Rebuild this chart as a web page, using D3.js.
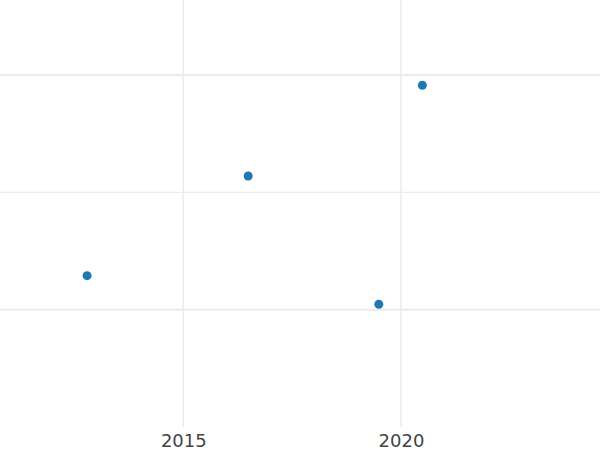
<!DOCTYPE html>
<html>
<head>
<meta charset="utf-8">
<script src="https://cdn.jsdelivr.net/npm/d3@7"></script>
<style>
  html, body { margin: 0; padding: 0; background: #fff; }
  svg { display: block; }
</style>
</head>
<body>
<svg id="chart" width="600" height="450"></svg>
<script>
// Data (years, values)
const years = [2012.79, 2016.49, 2019.49, 2020.49];
const values = [12.9, 21.4, 10.46, 29.13];
const xTickValues = [2015, 2020];
const xTickLabels = ["2015", "2020"];
const yGridValues = [10, 20, 30];
const yGridMajor = [10, 30];

const W = 600, H = 450;
const plotBottom = 427;

const svg = d3.select("#chart");

const x = d3.scaleLinear().domain([2010.79, 2024.57]).range([0, W]);
const y = d3.scaleLinear().domain([0, 36.4]).range([plotBottom, 0]);

// horizontal gridlines
svg.append("g").selectAll("line").data(yGridValues).join("line")
  .attr("x1", 0).attr("x2", W)
  .attr("y1", d => y(d)).attr("y2", d => y(d))
  .attr("stroke", "#ebebeb")
  .attr("stroke-width", d => yGridMajor.includes(d) ? 2 : 1.2);

// vertical gridlines
svg.append("g").selectAll("line").data(xTickValues).join("line")
  .attr("x1", d => x(d)).attr("x2", d => x(d))
  .attr("y1", 0).attr("y2", plotBottom)
  .attr("stroke", "#ebebeb")
  .attr("stroke-width", 1.5);

// x axis labels
const xAxis = d3.axisBottom(x).tickValues(xTickValues)
  .tickFormat((d, i) => xTickLabels[i]).tickSize(0).tickPadding(0);
const gx = svg.append("g").attr("transform", `translate(0,${plotBottom})`).call(xAxis);
gx.select(".domain").remove();
gx.selectAll("text")
  .attr("dy", null)
  .attr("y", 20)
  .attr("font-family", "DejaVu Sans, sans-serif")
  .attr("font-size", 18)
  .attr("fill", "#444");

// points
svg.append("g").selectAll("circle").data(years.map((yr, i) => [yr, values[i]])).join("circle")
  .attr("cx", d => x(d[0]))
  .attr("cy", d => y(d[1]))
  .attr("r", 4.5)
  .attr("fill", "#1f77b4");
</script>
</body>
</html>
